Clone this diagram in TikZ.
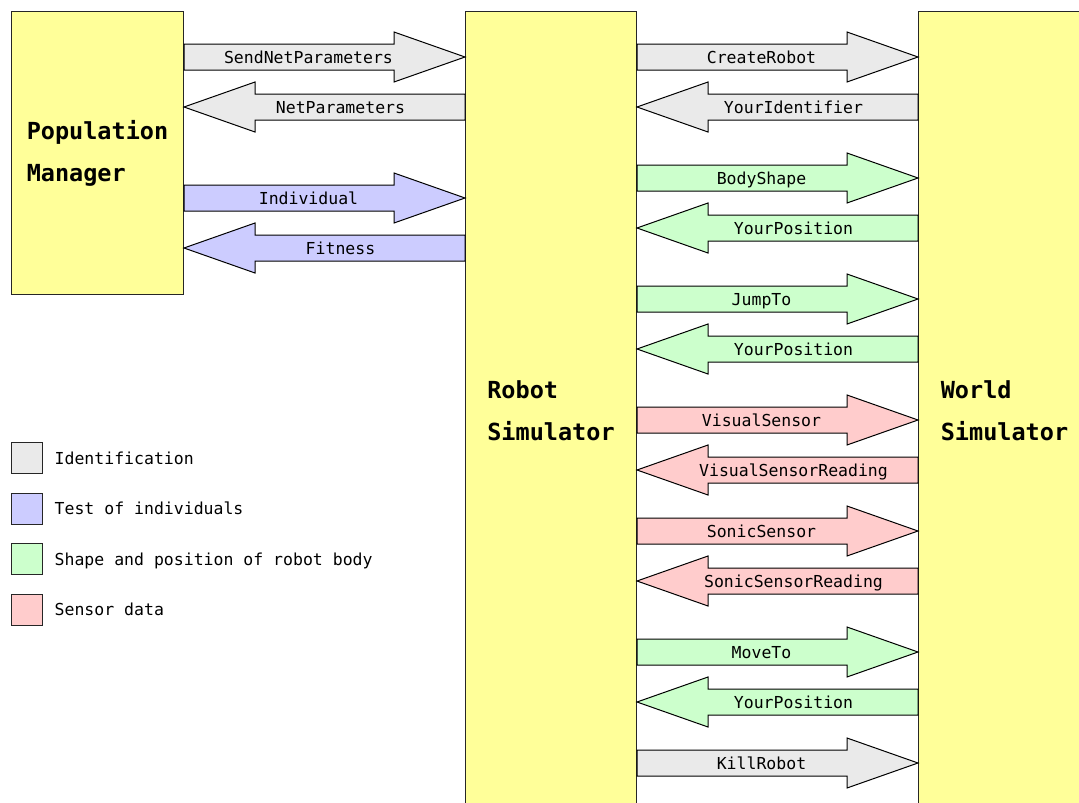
\documentclass[tikz,border=0pt]{standalone}
\usepackage{fontspec}
\usetikzlibrary{calc,positioning}
\newfontfamily\monofont{DejaVu Sans Mono}
\definecolor{boxyellow}{HTML}{FFFF99}
\definecolor{idgrey}{HTML}{EAEAEA}
\definecolor{testblue}{HTML}{CCCCFF}
\definecolor{bodygreen}{HTML}{CCFFCC}
\definecolor{sensorred}{HTML}{FFCCCC}
\tikzset{
  block/.style={draw=black!85, line width=1pt, fill=boxyellow, anchor=north west,
    align=left, font=\monofont\fontsize{23.5}{42}\selectfont\bfseries},
  msglabel/.style={font=\monofont\fontsize{16.5}{20}\selectfont, inner sep=0pt,
    text height=12pt, text depth=0pt},
  legbox/.style={draw=black!85, line width=1pt, minimum size=31pt, inner sep=0pt},
  msg/.style={draw=black, line width=1pt, to path={
    let \p1=(\tikztostart), \p2=(\tikztotarget),
        \p3=($(\p2)!71pt!(\p1)$), \p4=($(\p1)!0.5!(\p2)!16pt!(\p1)$) in
    (\x1,\y1+13pt) -- (\x3,\y1+13pt) -- (\x3,\y1+25pt) -- (\p2)
    -- (\x3,\y1-25pt) -- (\x3,\y1-13pt) -- (\x1,\y1-13pt) -- cycle
    (\p4) node[msglabel] {#1}}}
}
\begin{document}
\begin{tikzpicture}[x=1pt,y=-1pt]
  \useasboundingbox (0,0) rectangle (1079,803);
  % the three programs
  \node[block, minimum width=172pt, minimum height=283pt] (pm) at (11,11) {Population\\Manager};
  \node[block, minimum width=171pt, minimum height=799pt] (rs) at (465,11) {Robot\\Simulator};
  \node[block, minimum width=172pt, minimum height=799pt] (ws) at (918,11) {World\\Simulator};

  % population manager <-> robot simulator
  \path[msg=SendNetParameters, fill=idgrey] (pm.east |- 0,57) to (rs.west |- 0,57);
  \path[msg=NetParameters, fill=idgrey] (rs.west |- 0,107) to (pm.east |- 0,107);
  \path[msg=Individual, fill=testblue] (pm.east |- 0,198) to (rs.west |- 0,198);
  \path[msg=Fitness, fill=testblue] (rs.west |- 0,248) to (pm.east |- 0,248);

  % robot simulator <-> world simulator
  \path[msg=CreateRobot, fill=idgrey] (rs.east |- 0,57) to (ws.west |- 0,57);
  \path[msg=YourIdentifier, fill=idgrey] (ws.west |- 0,107) to (rs.east |- 0,107);
  \path[msg=BodyShape, fill=bodygreen] (rs.east |- 0,178) to (ws.west |- 0,178);
  \path[msg=YourPosition, fill=bodygreen] (ws.west |- 0,228) to (rs.east |- 0,228);
  \path[msg=JumpTo, fill=bodygreen] (rs.east |- 0,299) to (ws.west |- 0,299);
  \path[msg=YourPosition, fill=bodygreen] (ws.west |- 0,349) to (rs.east |- 0,349);
  \path[msg=VisualSensor, fill=sensorred] (rs.east |- 0,420) to (ws.west |- 0,420);
  \path[msg=VisualSensorReading, fill=sensorred] (ws.west |- 0,470) to (rs.east |- 0,470);
  \path[msg=SonicSensor, fill=sensorred] (rs.east |- 0,531) to (ws.west |- 0,531);
  \path[msg=SonicSensorReading, fill=sensorred] (ws.west |- 0,581) to (rs.east |- 0,581);
  \path[msg=MoveTo, fill=bodygreen] (rs.east |- 0,652) to (ws.west |- 0,652);
  \path[msg=YourPosition, fill=bodygreen] (ws.west |- 0,702) to (rs.east |- 0,702);
  \path[msg=KillRobot, fill=idgrey] (rs.east |- 0,763) to (ws.west |- 0,763);

  % legend
  \node[legbox, fill=idgrey] (leg1) at (26.5,458) {};
  \node[legbox, fill=testblue] (leg2) at (26.5,508.5) {};
  \node[legbox, fill=bodygreen] (leg3) at (26.5,559) {};
  \node[legbox, fill=sensorred] (leg4) at (26.5,609.5) {};
  \node[msglabel, anchor=west, right=12pt of leg1] (legt1) {Identification};
  \node[msglabel, anchor=west, right=12pt of leg2] (legt2) {Test of individuals};
  \node[msglabel, anchor=west, right=12pt of leg3] (legt3) {Shape and position of robot body};
  \node[msglabel, anchor=west, right=12pt of leg4] (legt4) {Sensor data};
\end{tikzpicture}
\end{document}
